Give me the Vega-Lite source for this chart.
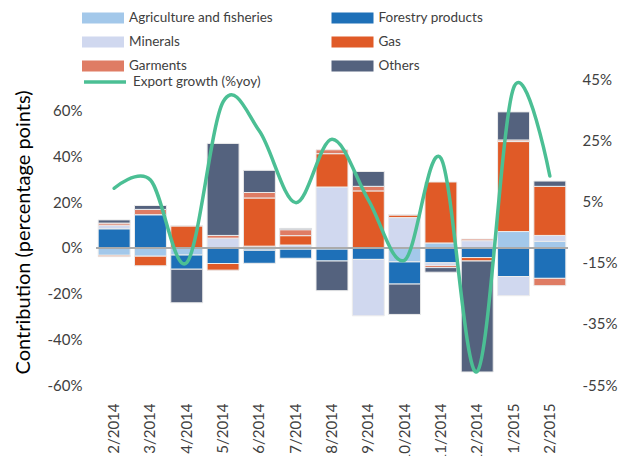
{
  "$schema": "https://vega.github.io/schema/vega-lite/v6.json",
  "width": 472,
  "height": 306,
  "autosize": "none",
  "padding": {"left": 96, "top": 79, "right": 56, "bottom": 71},
  "background": "white",
  "config": {
    "font": "Lato",
    "view": {"stroke": null},
    "axis": {"grid": false, "domain": false, "ticks": false, "labelFontSize": 15, "labelColor": "#404040", "labelFont": "Lato"},
    "legend": {"labelFont": "Lato", "labelFontSize": 13.5, "labelColor": "#404040", "padding": 0}
  },
  "datasets": {
    "seriesInfo": [
      {"series": "Agriculture and fisheries", "rank": 1},
      {"series": "Forestry products", "rank": 2},
      {"series": "Minerals", "rank": 3},
      {"series": "Gas", "rank": 4},
      {"series": "Garments", "rank": 5},
      {"series": "Others", "rank": 6}
    ],
    "bars": [
      {"month": "2/2014", "series": "Agriculture and fisheries", "value": -3.2},
      {"month": "2/2014", "series": "Forestry products", "value": 8.4},
      {"month": "2/2014", "series": "Minerals", "value": 1.6},
      {"month": "2/2014", "series": "Gas", "value": -0.6},
      {"month": "2/2014", "series": "Garments", "value": 0.9},
      {"month": "2/2014", "series": "Others", "value": 1.4},
      {"month": "3/2014", "series": "Agriculture and fisheries", "value": -3.6},
      {"month": "3/2014", "series": "Forestry products", "value": 14.6},
      {"month": "3/2014", "series": "Minerals", "value": 0},
      {"month": "3/2014", "series": "Gas", "value": -4.2},
      {"month": "3/2014", "series": "Garments", "value": 2.3},
      {"month": "3/2014", "series": "Others", "value": 1.7},
      {"month": "4/2014", "series": "Agriculture and fisheries", "value": -3.1},
      {"month": "4/2014", "series": "Forestry products", "value": -6.2},
      {"month": "4/2014", "series": "Minerals", "value": 0},
      {"month": "4/2014", "series": "Gas", "value": 9.7},
      {"month": "4/2014", "series": "Garments", "value": 0},
      {"month": "4/2014", "series": "Others", "value": -14.7},
      {"month": "5/2014", "series": "Agriculture and fisheries", "value": 0},
      {"month": "5/2014", "series": "Forestry products", "value": -6.8},
      {"month": "5/2014", "series": "Minerals", "value": 4.3},
      {"month": "5/2014", "series": "Gas", "value": -2.9},
      {"month": "5/2014", "series": "Garments", "value": 1.2},
      {"month": "5/2014", "series": "Others", "value": 40.3},
      {"month": "6/2014", "series": "Agriculture and fisheries", "value": -1.0},
      {"month": "6/2014", "series": "Forestry products", "value": -5.7},
      {"month": "6/2014", "series": "Minerals", "value": 0.8},
      {"month": "6/2014", "series": "Gas", "value": 21.1},
      {"month": "6/2014", "series": "Garments", "value": 2.4},
      {"month": "6/2014", "series": "Others", "value": 9.7},
      {"month": "7/2014", "series": "Agriculture and fisheries", "value": -0.5},
      {"month": "7/2014", "series": "Forestry products", "value": -4.0},
      {"month": "7/2014", "series": "Minerals", "value": 1.3},
      {"month": "7/2014", "series": "Gas", "value": 4.1},
      {"month": "7/2014", "series": "Garments", "value": 2.6},
      {"month": "7/2014", "series": "Others", "value": 0.6},
      {"month": "8/2014", "series": "Agriculture and fisheries", "value": -0.5},
      {"month": "8/2014", "series": "Forestry products", "value": -5.2},
      {"month": "8/2014", "series": "Minerals", "value": 26.7},
      {"month": "8/2014", "series": "Gas", "value": 14.6},
      {"month": "8/2014", "series": "Garments", "value": 1.7},
      {"month": "8/2014", "series": "Others", "value": -13.0},
      {"month": "9/2014", "series": "Agriculture and fisheries", "value": 0},
      {"month": "9/2014", "series": "Forestry products", "value": -5.0},
      {"month": "9/2014", "series": "Minerals", "value": -24.7},
      {"month": "9/2014", "series": "Gas", "value": 25.0},
      {"month": "9/2014", "series": "Garments", "value": 2.0},
      {"month": "9/2014", "series": "Others", "value": 6.5},
      {"month": "10/2014", "series": "Agriculture and fisheries", "value": -6.1},
      {"month": "10/2014", "series": "Forestry products", "value": -9.7},
      {"month": "10/2014", "series": "Minerals", "value": 13.3},
      {"month": "10/2014", "series": "Gas", "value": 1.2},
      {"month": "10/2014", "series": "Garments", "value": 0},
      {"month": "10/2014", "series": "Others", "value": -13.3},
      {"month": "11/2014", "series": "Agriculture and fisheries", "value": 2.2},
      {"month": "11/2014", "series": "Forestry products", "value": -6.5},
      {"month": "11/2014", "series": "Minerals", "value": -1.2},
      {"month": "11/2014", "series": "Gas", "value": 26.7},
      {"month": "11/2014", "series": "Garments", "value": -0.9},
      {"month": "11/2014", "series": "Others", "value": -2.0},
      {"month": "12/2014", "series": "Agriculture and fisheries", "value": 0},
      {"month": "12/2014", "series": "Forestry products", "value": -4.2},
      {"month": "12/2014", "series": "Minerals", "value": 3.2},
      {"month": "12/2014", "series": "Gas", "value": -1.5},
      {"month": "12/2014", "series": "Garments", "value": 0.7},
      {"month": "12/2014", "series": "Others", "value": -48.6},
      {"month": "1/2015", "series": "Agriculture and fisheries", "value": 7.2},
      {"month": "1/2015", "series": "Forestry products", "value": -12.5},
      {"month": "1/2015", "series": "Minerals", "value": -8.4},
      {"month": "1/2015", "series": "Gas", "value": 39.4},
      {"month": "1/2015", "series": "Garments", "value": 0.7},
      {"month": "1/2015", "series": "Others", "value": 12.3},
      {"month": "2/2015", "series": "Agriculture and fisheries", "value": 2.9},
      {"month": "2/2015", "series": "Forestry products", "value": -13.3},
      {"month": "2/2015", "series": "Minerals", "value": 2.6},
      {"month": "2/2015", "series": "Gas", "value": 21.5},
      {"month": "2/2015", "series": "Garments", "value": -3.2},
      {"month": "2/2015", "series": "Others", "value": 2.3}
    ],
    "growth": [
      {"month": "2/2014", "growth": 9.3},
      {"month": "3/2014", "growth": 12.0},
      {"month": "4/2014", "growth": -15.0},
      {"month": "5/2014", "growth": 37.5},
      {"month": "6/2014", "growth": 28.0},
      {"month": "7/2014", "growth": 4.6},
      {"month": "8/2014", "growth": 25.3},
      {"month": "9/2014", "growth": 5.5},
      {"month": "10/2014", "growth": -14.2},
      {"month": "11/2014", "growth": 19.1},
      {"month": "12/2014", "growth": -50.6},
      {"month": "1/2015", "growth": 42.0},
      {"month": "2/2015", "growth": 13.3}
    ],
    "zero": [{"z": 0}]
  },
  "layer": [
    {
      "layer": [
        {
          "data": {"name": "bars"},
          "transform": [
            {"lookup": "series", "from": {"data": {"name": "seriesInfo"}, "key": "series", "fields": ["rank"]}}
          ],
          "mark": {"type": "bar", "stroke": "#ececec", "strokeWidth": 1},
          "encoding": {
            "x": {
              "field": "month",
              "type": "ordinal",
              "sort": ["2/2014", "3/2014", "4/2014", "5/2014", "6/2014", "7/2014", "8/2014", "9/2014", "10/2014", "11/2014", "12/2014", "1/2015", "2/2015"],
              "scale": {"paddingInner": 0.12, "paddingOuter": 0.06},
              "axis": {"title": null, "labelAngle": -90, "labelPadding": 18, "labelFontSize": 15}
            },
            "y": {
              "field": "value",
              "type": "quantitative",
              "stack": "zero",
              "scale": {"domain": [-60, 74], "nice": false, "zero": false},
              "axis": {
                "title": "Contribution (percentage points)",
                "titleFont": "Lato",
                "titleFontSize": 20,
                "titleFontWeight": "normal",
                "titleColor": "#000000",
                "titlePadding": 14,
                "values": [-60, -40, -20, 0, 20, 40, 60],
                "labelExpr": "datum.value + '%'",
                "labelPadding": 14
              }
            },
            "fill": {
              "field": "series",
              "type": "nominal",
              "scale": {
                "domain": ["Agriculture and fisheries", "Forestry products", "Minerals", "Gas", "Garments", "Others"],
                "range": ["#a3c8ea", "#1e70b8", "#d0d8ef", "#e05a27", "#df7c64", "#54627e"]
              },
              "legend": {
                "title": null,
                "orient": "none",
                "direction": "horizontal",
                "legendX": -3.5,
                "legendY": -71.5,
                "columns": 2,
                "columnPadding": 57.5,
                "rowPadding": 7,
                "symbolType": "M-2,-0.52H2V0.52H-2Z",
                "symbolSize": 441,
                "symbolStrokeWidth": 0,
                "labelOffset": 15.5,
                "labelLimit": 300
              }
            },
            "order": {"field": "rank", "type": "quantitative", "sort": "ascending"}
          }
        },
        {
          "data": {"name": "zero"},
          "mark": {"type": "rule", "color": "#ababab", "strokeWidth": 2},
          "encoding": {"y": {"field": "z", "type": "quantitative"}}
        }
      ]
    },
    {
      "data": {"name": "growth"},
      "mark": {"type": "line", "interpolate": "cardinal", "strokeWidth": 3.5, "strokeCap": "round"},
      "encoding": {
        "x": {
          "field": "month",
          "type": "ordinal",
          "sort": ["2/2014", "3/2014", "4/2014", "5/2014", "6/2014", "7/2014", "8/2014", "9/2014", "10/2014", "11/2014", "12/2014", "1/2015", "2/2015"]
        },
        "y": {
          "field": "growth",
          "type": "quantitative",
          "scale": {"domain": [-55, 45], "nice": false, "zero": false},
          "axis": {
            "orient": "right",
            "title": null,
            "values": [-55, -35, -15, 5, 25, 45],
            "labelExpr": "datum.value + '%'",
            "labelPadding": 14
          }
        },
        "stroke": {
          "datum": "Export growth (%yoy)",
          "type": "nominal",
          "scale": {"range": ["#4bbf94"]},
          "legend": {
            "title": null,
            "orient": "none",
            "legendX": -3.5,
            "legendY": -9.5,
            "symbolType": "M-2,0H2",
            "symbolSize": 441,
            "symbolStrokeWidth": 3.5,
            "labelOffset": 15.5,
            "labelLimit": 300
          }
        }
      }
    }
  ],
  "resolve": {"scale": {"y": "independent"}}
}
